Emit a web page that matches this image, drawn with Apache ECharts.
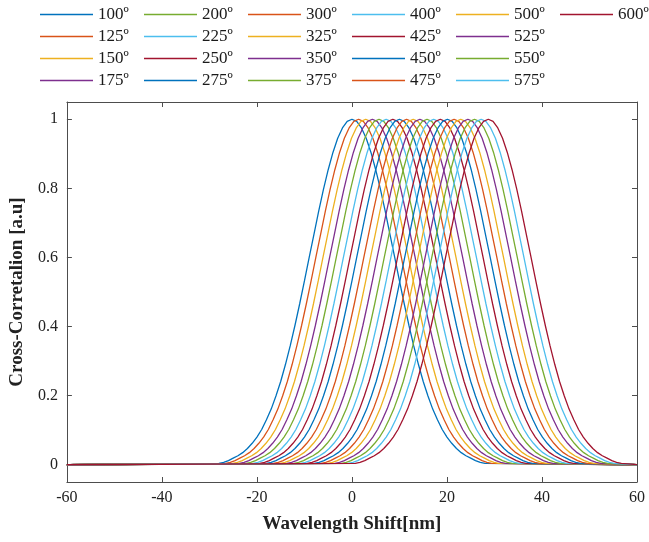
<!DOCTYPE html>
<html>
<head>
<meta charset="utf-8">
<script src="https://cdn.jsdelivr.net/npm/echarts@6/dist/echarts.min.js"></script>
<style>
html,body{margin:0;padding:0;background:#fff;}
#chart{width:649px;height:542px;}
</style>
</head>
<body>
<div id="chart"></div>
<script>
// Legend names (angles) and peak positions
const angles = [100,125,150,175,200,225,250,275,300,325,350,375,400,425,450,475,500,525,550,575,600];
const peakCenters = [0,1.4,2.9,4.3,5.7,7.2,8.6,10.0,11.5,12.9,14.3,15.8,17.2,18.6,20.1,21.5,22.9,24.4,25.8,27.2,28.7];
// Common curve profile: distance from peak (nm) and value (symmetric)
const profileOffsets = [0,1,2,3,4,5,6,7,8,9,10,11,12,13,14,15,16,17,18,19,20,21,22,23,24,25,26,27,28];
const profileValues  = [1,0.994,0.975,0.945,0.904,0.854,0.797,0.734,0.667,0.6,0.532,0.466,0.403,0.344,0.29,0.241,0.199,0.161,0.13,0.102,0.08,0.062,0.047,0.035,0.026,0.019,0.012,0.007,0.004];
const xTicks = [-60,-40,-20,0,20,40,60];
const yTicks = [0,0.2,0.4,0.6,0.8,1];
const palette = ['#0072BD','#D95319','#EDB120','#7E2F8E','#77AC30','#4DBEEE','#A2142F'];

const FONT = '"Liberation Serif","Times New Roman",serif';
const axisColor = '#4d4d4d';

const series = angles.map((a, i) => {
  const c = peakCenters[i];
  const pts = [[-60, 0]];
  for (let k = profileOffsets.length - 1; k >= 1; k--) pts.push([c - profileOffsets[k], profileValues[k]]);
  for (let k = 0; k < profileOffsets.length; k++) pts.push([c + profileOffsets[k], profileValues[k]]);
  pts.push([60, 0]);
  return {
    name: a + 'º',
    type: 'line',
    data: pts,
    symbol: 'none',
    showSymbol: false,
    smooth: false,
    lineStyle: { width: 1.3, color: palette[i % 7] },
    itemStyle: { color: palette[i % 7] },
    emphasis: { disabled: true },
    silent: true,
    animation: false
  };
});

const legends = angles.map((a, i) => {
  const col = Math.floor(i / 4), row = i % 4;
  return {
    data: [a + 'º'],
    left: 40 + col * 104,
    top: 6 + row * 22,
    padding: 0,
    icon: 'rect',
    itemWidth: 53,
    itemHeight: 1.5,
    itemGap: 0,
    selectedMode: false,
    textStyle: { fontFamily: FONT, fontSize: 17, color: '#1a1a1a', padding: [0, 0, 0, 0] }
  };
});

const tickCommon = { inside: true, length: 5, lineStyle: { color: axisColor } };

const option = {
  backgroundColor: '#fff',
  animation: false,
  legend: legends,
  grid: { left: 66, right: 12, top: 102, bottom: 60, containLabel: false },
  xAxis: [
    {
      type: 'value', min: -60, max: 60, position: 'bottom',
      axisLine: { onZero: false, lineStyle: { color: axisColor, width: 1 } },
      axisTick: Object.assign({ customValues: xTicks }, tickCommon),
      axisLabel: { customValues: xTicks, fontFamily: FONT, fontSize: 16, color: '#222', margin: 8 },
      splitLine: { show: false },
      name: 'Wavelength Shift[nm]', nameLocation: 'middle', nameGap: 33,
      nameTextStyle: { fontFamily: FONT, fontSize: 19, fontWeight: 'bold', color: '#222' }
    },
    {
      type: 'value', min: -60, max: 60, position: 'top',
      axisLine: { show: true, onZero: false, lineStyle: { color: axisColor, width: 1 } },
      axisTick: Object.assign({ customValues: xTicks }, tickCommon),
      axisLabel: { show: false },
      splitLine: { show: false }
    }
  ],
  yAxis: [
    {
      type: 'value', min: -0.05, max: 1.05, position: 'left',
      axisLine: { show: true, onZero: false, lineStyle: { color: axisColor, width: 1 } },
      axisTick: Object.assign({ customValues: yTicks }, tickCommon),
      axisLabel: { customValues: yTicks, fontFamily: FONT, fontSize: 16, color: '#222', margin: 9,
        formatter: v => String(Math.round(v * 10) / 10) },
      splitLine: { show: false },
      name: 'Cross-Corretalion [a.u]', nameLocation: 'middle', nameGap: 37,
      nameTextStyle: { fontFamily: FONT, fontSize: 19, fontWeight: 'bold', color: '#222' }
    },
    {
      type: 'value', min: -0.05, max: 1.05, position: 'right',
      axisLine: { show: true, onZero: false, lineStyle: { color: axisColor, width: 1 } },
      axisTick: Object.assign({ customValues: yTicks }, tickCommon),
      axisLabel: { show: false },
      splitLine: { show: false }
    }
  ],
  series: series
};

const chart = echarts.init(document.getElementById('chart'), null, { renderer: 'canvas' });
chart.setOption(option);
</script>
</body>
</html>
